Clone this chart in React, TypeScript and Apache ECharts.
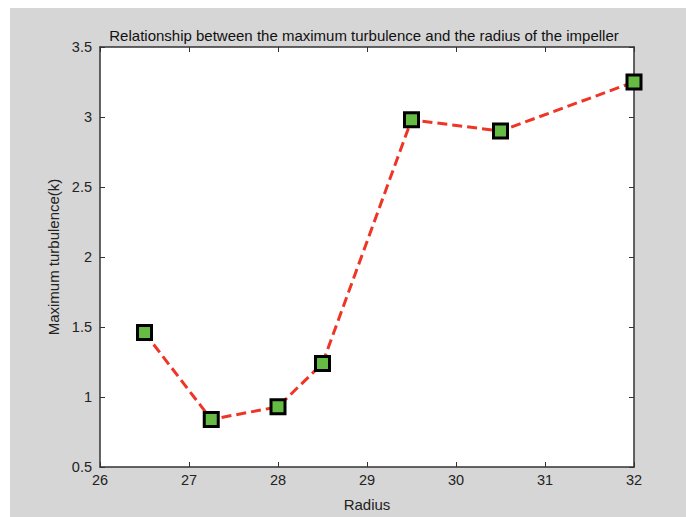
import React, { useEffect, useRef } from "react";
import * as echarts from "echarts";

const radius = [26.5, 27.25, 28, 28.5, 29.5, 30.5, 32];
const turbulence = [1.46, 0.84, 0.93, 1.24, 2.98, 2.9, 3.25];
const xTicks = [26, 27, 28, 29, 30, 31, 32];
const yTicks = [0.5, 1, 1.5, 2, 2.5, 3, 3.5];

export default function App() {
  const ref = useRef<HTMLDivElement>(null);
  useEffect(() => {
    document.body.style.margin = "0";
    const chart = echarts.init(ref.current!, null, { renderer: "svg" });
    const font = "Liberation Sans, Arial, sans-serif";
    const axisCommon = {
      axisLine: { show: true, lineStyle: { color: "#333", width: 1.5 } },
      axisTick: { show: true, inside: true, length: 5, lineStyle: { color: "#333", width: 1 } },
      splitLine: { show: false },
    };
    chart.setOption({
      animation: false,
      backgroundColor: "#d6d6d6",
      title: {
        text: "Relationship between the maximum turbulence and the radius of the impeller",
        left: 349,
        textAlign: "center",
        top: 15,
        textStyle: { fontFamily: font, fontSize: 15, fontWeight: "normal", color: "#111" },
      },
      grid: { left: 90, right: 52, top: 39, bottom: 49, backgroundColor: "#fff", show: true, borderWidth: 0 },
      xAxis: [
        {
          type: "value", min: 26, max: 32, interval: 1, position: "bottom",
          name: "Radius", nameLocation: "middle", nameGap: 30,
          nameTextStyle: { fontFamily: font, fontSize: 15, color: "#222" },
          axisLabel: { fontFamily: font, fontSize: 14.5, color: "#222", margin: 5,
            formatter: (v: number) => (xTicks.includes(v) ? String(v) : "") },
          ...axisCommon,
        },
        {
          type: "value", min: 26, max: 32, interval: 1, position: "top",
          axisLabel: { show: false }, ...axisCommon,
        },
      ],
      yAxis: [
        {
          type: "value", min: 0.5, max: 3.5, interval: 0.5, position: "left",
          name: "Maximum turbulence(k)", nameLocation: "middle", nameGap: 34,
          nameTextStyle: { fontFamily: font, fontSize: 15, color: "#222" },
          axisLabel: { fontFamily: font, fontSize: 14.5, color: "#222", margin: 8,
            formatter: (v: number) => (yTicks.includes(v) ? String(v) : "") },
          ...axisCommon,
        },
        {
          type: "value", min: 0.5, max: 3.5, interval: 0.5, position: "right",
          axisLabel: { show: false }, ...axisCommon,
        },
      ],
      series: [
        {
          type: "line",
          data: radius.map((r, i) => [r, turbulence[i]]),
          lineStyle: { color: "#ef3526", width: 3, type: [10, 5] },
          symbol: "rect",
          symbolSize: 14,
          itemStyle: { color: "#66bb44", borderColor: "#000", borderWidth: 3 },
        },
      ],
    });
    return () => chart.dispose();
  }, []);
  return (
    <div style={{ position: "absolute", left: 0, top: 0, width: 686, height: 517, background: "#fff" }}>
      <div ref={ref} style={{ position: "absolute", left: 10, top: 8, width: 676, height: 509 }} />
    </div>
  );
}
